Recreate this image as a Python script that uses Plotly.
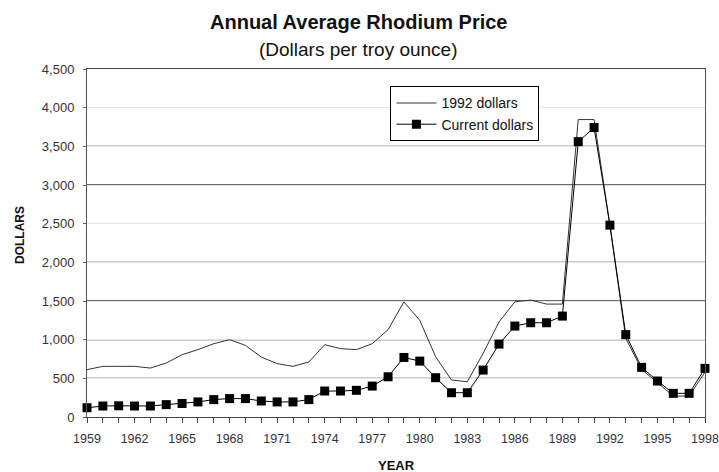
import plotly.graph_objects as go

years = list(range(1959, 1999))
current_dollars = [120, 142, 145, 142, 142, 160, 175, 195, 225, 238,
                   238, 207, 195, 195, 225, 336, 336, 345, 400, 520,
                   770, 723, 508, 314, 314, 607, 943, 1176, 1219, 1219,
                   1305, 3560, 3743, 2481, 1065, 642, 465, 306, 306, 629]
dollars_1992 = [612, 655, 655, 655, 633, 698, 806, 871, 948, 1000,
                926, 775, 690, 655, 711, 935, 884, 871, 948, 1130,
                1488, 1250, 779, 478, 456, 823, 1228, 1490, 1512, 1460,
                1460, 3846, 3846, 2481, 1017, 616, 443, 271, 271, 580]
x_tick_labels = [str(y) if (y - 1959) % 3 == 0 else "" for y in years]
y_ticks = [0, 500, 1000, 1500, 2000, 2500, 3000, 3500, 4000, 4500]
dark_grid = [500, 1000, 1500, 2000, 3000, 3500]

FONT = "Arial, Liberation Sans, sans-serif"

fig = go.Figure()
fig.add_trace(go.Scatter(
    x=years, y=dollars_1992, mode="lines", name="1992 dollars",
    line=dict(color="#333333", width=1), cliponaxis=False))
fig.add_trace(go.Scatter(
    x=years, y=current_dollars, mode="lines+markers", name="Current dollars",
    line=dict(color="#000000", width=1),
    marker=dict(symbol="square", size=9, color="#000000"),
    cliponaxis=False))

shapes = [dict(type="line", xref="paper", x0=0, x1=1, yref="y", y0=v, y1=v,
               line=dict(color="#3a3a3a", width=1.4), layer="below")
          for v in dark_grid]

fig.update_layout(
    width=719, height=472,
    margin=dict(l=87, r=14, t=69, b=55, autoexpand=False),
    paper_bgcolor="white", plot_bgcolor="white",
    font=dict(family=FONT, color="#222222"),
    showlegend=True,
    legend=dict(x=0.491, y=0.95, xanchor="left", yanchor="top",
                bordercolor="#000000", borderwidth=1, bgcolor="white",
                font=dict(size=14, family=FONT, color="#111111"),
                tracegroupgap=0, itemwidth=40),
    xaxis=dict(range=[1959, 1998], tickvals=years, ticktext=x_tick_labels,
               tickangle=0, automargin=False,
               ticks="outside", ticklen=5, tickcolor="#444444",
               showgrid=False, zeroline=False,
               showline=True, linecolor="#444444", linewidth=1, mirror=True,
               tickfont=dict(size=12.5, family=FONT, color="#333340"),
               ticklabelstandoff=5, ticklabeloverflow="allow"),
    yaxis=dict(range=[0, 4500], tickvals=y_ticks, automargin=False,
               tickformat=",d", ticks="outside", ticklen=3,
               tickcolor="#666666",
               showgrid=True, gridcolor="#e4e4e4", gridwidth=1,
               zeroline=False,
               showline=True, linecolor="#555555", linewidth=1, mirror=True,
               tickfont=dict(size=13, family=FONT, color="#333333"),
               ticklabelstandoff=6),
    shapes=shapes,
    annotations=[
        dict(text="<b>Annual Average Rhodium Price</b>", xref="paper", yref="paper",
             x=0.44, y=1.135, xanchor="center", yanchor="middle", showarrow=False,
             font=dict(size=20, family=FONT, color="#111111")),
        dict(text="(Dollars per troy ounce)", xref="paper", yref="paper",
             x=0.44, y=1.055, xanchor="center", yanchor="middle", showarrow=False,
             font=dict(size=19, family=FONT, color="#111111")),
        dict(text="<b>DOLLARS</b>", xref="paper", yref="paper",
             x=-0.1084, y=0.523, xanchor="center", yanchor="middle",
             textangle=-90, showarrow=False,
             font=dict(size=12, family=FONT, color="#111111")),
        dict(text="<b>YEAR</b>", xref="paper", yref="paper",
             x=0.501, y=-0.138, xanchor="center", yanchor="middle",
             showarrow=False,
             font=dict(size=13, family=FONT, color="#111111")),
    ],
)

fig.write_html(
    "out.html",
    config={"displayModeBar": False},
    post_script="document.body.style.margin='0';document.body.style.overflow='hidden';",
)
